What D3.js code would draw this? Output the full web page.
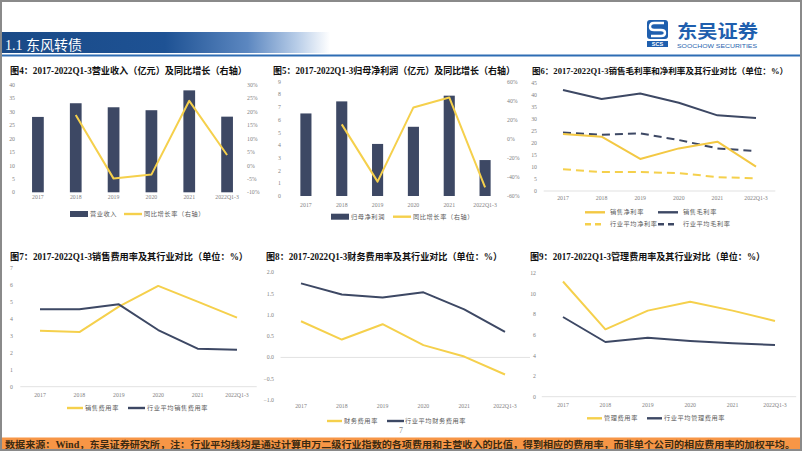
<!DOCTYPE html>
<html><head><meta charset="utf-8">
<script src="https://cdn.jsdelivr.net/npm/d3@7"></script>
<style>body{margin:0;background:#fff}svg{display:block}</style>
</head><body>
<script>
// ---------- DATA ----------
const categories = ["2017","2018","2019","2020","2021","2022Q1-3"];
const revenue = [28.1, 33.2, 31.7, 30.6, 38.0, 28.2];
const revenueGrowth = [null, 18.8, -4.9, -3.4, 24.1, 3.9];
const netProfit = [6.5, 7.45, 4.1, 5.45, 7.9, 2.83];
const netProfitGrowth = [null, 15.2, -44.9, 33.0, 43.5, -50.9];
const netMargin = [23.8, 22.7, 13.4, 17.8, 20.6, 10.2];
const grossMargin = [42.2, 38.4, 40.7, 36.9, 31.6, 30.5];
const indNetMargin = [9.1, 7.9, 7.9, 7.5, 5.8, 5.3];
const indGrossMargin = [24.4, 23.5, 24.1, 21.3, 17.8, 16.7];
const sellingExp = [3.31, 3.23, 4.73, 5.96, 5.03, 4.08];
const indSellingExp = [4.58, 4.58, 4.87, 3.35, 2.25, 2.19];
const finExp = [0.85, 0.42, 0.78, 0.29, 0.02, -0.40];
const indFinExp = [1.74, 1.48, 1.41, 1.53, 1.13, 0.60];
const adminExp = [11.2, 6.55, 8.37, 9.24, 8.37, 7.36];
const indAdminExp = [7.75, 5.32, 5.74, 5.42, 5.19, 5.03];

const ticks1L = [0,5,10,15,20,25,30,35,40];
const ticks1R = [-10,-5,0,5,10,15,20,25,30];
const ticks2L = [0,1,2,3,4,5,6,7,8,9];
const ticks2R = [-60,-40,-20,0,20,40,60];
const ticks3 = [0,5,10,15,20,25,30,35,40,45];
const ticks4 = [0,1,2,3,4,5,6,7];
const ticks5 = [-1.0,-0.5,0.0,0.5,1.0,1.5,2.0];
const ticks6 = [0,2,4,6,8,10,12];

const titles = [
  "图4：2017-2022Q1-3营业收入（亿元）及同比增长（右轴）",
  "图5：2017-2022Q1-3归母净利润（亿元）及同比增长（右轴）",
  "图6：2017-2022Q1-3销售毛利率和净利率及其行业对比（单位：%）",
  "图7：2017-2022Q1-3销售费用率及其行业对比（单位：%）",
  "图8：2017-2022Q1-3财务费用率及其行业对比（单位：%）",
  "图9：2017-2022Q1-3管理费用率及其行业对比（单位：%）"
];
const footerText = "数据来源：Wind，东吴证券研究所，注：行业平均线均是通过计算申万二级行业指数的各项费用和主营收入的比值，得到相应的费用率，而非单个公司的相应费用率的加权平均。";

// ---------- STYLE ----------
const NAVY = "#3d4864", YEL = "#f5d04c", GRAY = "#7f7f7f";
const SERIF = "'Liberation Serif','Noto Sans CJK SC',serif";
const CJK = "'Noto Sans CJK SC','Liberation Serif',sans-serif";

const svg = d3.select("body").append("svg").attr("width",802).attr("height",451);
const defs = svg.append("defs");
const grad = defs.append("linearGradient").attr("id","hdr").attr("x1","0").attr("x2","1");
[[0,"#1a4a87"],[0.5,"#1e5294"],[0.75,"#5c87c0"],[0.9,"#b8cde8"],[1,"#ffffff"]]
  .forEach(([o,c])=>grad.append("stop").attr("offset",o).attr("stop-color",c));

// ---------- HEADER ----------
svg.append("rect").attr("x",0).attr("y",32).attr("width",330).attr("height",21).attr("fill","url(#hdr)");
svg.append("text").attr("x",5).attr("y",50).attr("fill","#fff").attr("font-family",SERIF)
  .attr("font-size",14).text("1.1 东风转债");
svg.append("line").attr("x1",0).attr("x2",802).attr("y1",55.5).attr("y2",55.5)
  .attr("stroke","#2e6db4").attr("stroke-width",2);
// logo
const logo = svg.append("g");
logo.append("rect").attr("x",647).attr("y",20).attr("width",21).attr("height",19).attr("rx",3).attr("fill","#1f5fae");
logo.append("path").attr("d","M664,23 L654,23 Q650,23 650,27 Q650,30 654,30 L661,30 Q665,30 665,33 Q665,36 661,36 L651,36")
  .attr("fill","none").attr("stroke","#fff").attr("stroke-width",2.4);
logo.append("rect").attr("x",647).attr("y",41).attr("width",21).attr("height",6).attr("fill","#1f5fae");
logo.append("text").attr("x",657.5).attr("y",46.3).attr("text-anchor","middle").attr("font-family","Liberation Sans")
  .attr("font-size",5.5).attr("font-weight","bold").attr("fill","#fff").text("SCS");
logo.append("text").attr("x",677).attr("y",37.5).attr("font-family",CJK).attr("font-weight","bold")
  .attr("font-size",18).attr("fill","#1f5fae").attr("textLength",81).attr("lengthAdjust","spacingAndGlyphs").text("东吴证券");
logo.append("text").attr("x",677).attr("y",47.8).attr("font-family","Liberation Sans")
  .attr("font-size",6).attr("fill","#1f5fae").attr("textLength",80).attr("lengthAdjust","spacingAndGlyphs").text("SOOCHOW SECURITIES");

// ---------- FOOTER ----------
svg.append("text").attr("x",401).attr("y",433).attr("text-anchor","middle").attr("font-family",SERIF)
  .attr("font-size",8).attr("fill",GRAY).text("7");
svg.append("rect").attr("x",0).attr("y",437.5).attr("width",802).attr("height",14).attr("fill","#f79646");
svg.append("text").attr("x",5).attr("y",448).attr("font-family",SERIF).attr("font-weight","bold")
  .attr("font-size",9.5).attr("fill","#3b2a12").attr("textLength",790).attr("lengthAdjust","spacingAndGlyphs").text(footerText);

// border
svg.append("rect").attr("x",1).attr("y",1).attr("width",800).attr("height",449).attr("fill","none")
  .attr("stroke","#8a8a8a").attr("stroke-width",2);

// ---------- HELPERS ----------
function title(i,x,y,len,fs){
  svg.append("text").attr("x",x).attr("y",y).attr("font-family",SERIF).attr("font-weight","bold")
    .attr("font-size",fs||9.5).attr("fill","#111").attr("textLength",len).attr("lengthAdjust","spacingAndGlyphs").text(titles[i]);
}
function xLabels(x,y){
  svg.append("g").selectAll("text").data(categories).join("text")
    .attr("x",d=>x(d)+x.bandwidth()/2).attr("y",y).attr("text-anchor","middle")
    .attr("font-family",SERIF).attr("font-size",5.8).attr("fill",GRAY).text(d=>d);
}
function yLabels(scale,ticks,fmt,x,anchor){
  svg.append("g").selectAll("text").data(ticks).join("text")
    .attr("x",x).attr("y",d=>scale(d)).attr("dy","0.35em").attr("text-anchor",anchor)
    .attr("font-family",SERIF).attr("font-size",5.8).attr("fill",GRAY).text(fmt);
}
function baseline(x1,x2,y){
  svg.append("line").attr("x1",x1).attr("x2",x2).attr("y1",y).attr("y2",y).attr("stroke","#d9d9d9").attr("stroke-width",0.8);
}
function lineSeries(x,y,vals,color,dash){
  const gen = d3.line().defined(d=>d!=null).x((d,i)=>x(categories[i])+x.bandwidth()/2).y(d=>y(d));
  svg.append("path").datum(vals).attr("d",gen).attr("fill","none").attr("stroke",color)
    .attr("stroke-width",2).attr("stroke-linejoin","round").attr("stroke-dasharray",dash||null);
}
function bars(x,y,vals,color){
  const w = x.bandwidth()*0.31;
  svg.append("g").selectAll("rect").data(vals).join("rect")
    .attr("x",(d,i)=>x(categories[i])+x.bandwidth()/2-w/2).attr("width",w)
    .attr("y",d=>y(d)).attr("height",d=>y(0)-y(d)).attr("fill",color);
}
function legendText(x,y,t){
  svg.append("text").attr("x",x).attr("y",y).attr("dy","0.35em").attr("font-family",CJK)
    .attr("font-size",6.2).attr("letter-spacing",0.6).attr("fill","#595959").text(t);
}
function legendLine(x1,x2,y,color,dash){
  svg.append("line").attr("x1",x1).attr("x2",x2).attr("y1",y).attr("y2",y).attr("stroke",color)
    .attr("stroke-width",2.4).attr("stroke-dasharray",dash||null);
}
function legendRect(x1,x2,y,color){
  svg.append("rect").attr("x",x1).attr("y",y-3).attr("width",x2-x1).attr("height",6).attr("fill",color);
}
const pct = d=>d+"%";

// ---------- CHART 1 ----------
{
  title(0,10,73.5,237);
  const x = d3.scaleBand().domain(categories).range([19,246]);
  const yL = d3.scaleLinear().domain([0,40]).range([192.3,85]);
  const yR = d3.scaleLinear().domain([-10,30]).range([192.3,85]);
  bars(x,yL,revenue,NAVY);
  lineSeries(x,yR,revenueGrowth,YEL);
  yLabels(yL,ticks1L,d=>d,15,"end");
  yLabels(yR,ticks1R,pct,247,"start");
  xLabels(x,199);
  legendRect(70,88,214,NAVY); legendText(90,214,"营业收入");
  legendLine(124,142,214,YEL); legendText(144,214,"同比增长率（右轴）");
}
// ---------- CHART 2 ----------
{
  title(1,273,73.5,242);
  const x = d3.scaleBand().domain(categories).range([288,503]);
  const yL = d3.scaleLinear().domain([0,9]).range([196,81.7]);
  const yR = d3.scaleLinear().domain([-60,60]).range([196,81.7]);
  bars(x,yL,netProfit,NAVY);
  lineSeries(x,yR,netProfitGrowth,YEL);
  yLabels(yL,ticks2L,d=>d,281,"end");
  yLabels(yR,ticks2R,pct,507,"start");
  xLabels(x,207);
  legendRect(331,349,216.7,NAVY); legendText(351,216.7,"归母净利润");
  legendLine(393,411,216.7,YEL); legendText(413,216.7,"同比增长率（右轴）");
}
// ---------- CHART 3 ----------
{
  title(2,532,74,256,8.4);
  const x = d3.scaleBand().domain(categories).range([543.7,775.3]);
  const y = d3.scaleLinear().domain([0,45]).range([191,83.3]);
  baseline(543.7,775.3,y(0));
  lineSeries(x,y,indNetMargin,YEL,"8,5");
  lineSeries(x,y,indGrossMargin,NAVY,"8,5");
  lineSeries(x,y,netMargin,"#f3c843");
  lineSeries(x,y,grossMargin,NAVY);
  yLabels(y,ticks3,d=>d,537,"end");
  xLabels(x,200);
  legendLine(585,605,212.3,"#f3c843"); legendText(610,212.3,"销售净利率");
  legendLine(658,678,212.3,NAVY); legendText(683,212.3,"销售毛利率");
  legendLine(585,605,224.3,YEL,"6,4"); legendText(610,224.3,"行业平均净利率");
  legendLine(658,678,224.3,NAVY,"6,4"); legendText(683,224.3,"行业平均毛利率");
}
// ---------- CHART 4 ----------
{
  title(3,10,259.5,238);
  const x = d3.scaleBand().domain(categories).range([20.3,256.7]);
  const y = d3.scaleLinear().domain([0,7]).range([386.7,268.3]);
  baseline(20.3,256.7,y(0));
  lineSeries(x,y,sellingExp,YEL);
  lineSeries(x,y,indSellingExp,NAVY);
  yLabels(y,ticks4,d=>d,13,"end");
  xLabels(x,397);
  legendLine(67,83,408,YEL); legendText(85,408,"销售费用率");
  legendLine(128,145,408,NAVY); legendText(147,408,"行业平均销售费用率");
}
// ---------- CHART 5 ----------
{
  title(4,266,259.5,236);
  const x = d3.scaleBand().domain(categories).range([280.6,525.4]);
  const y = d3.scaleLinear().domain([-1,2]).range([400,272.3]);
  baseline(280.6,530,y(0));
  lineSeries(x,y,finExp,YEL);
  lineSeries(x,y,indFinExp,NAVY);
  yLabels(y,ticks5,d3.format(".1f"),274,"end");
  xLabels(x,408);
  legendLine(327,342,421,YEL); legendText(344,421,"财务费用率");
  legendLine(387,404,421,NAVY); legendText(405,421,"行业平均财务费用率");
}
// ---------- CHART 6 ----------
{
  title(5,530,259.5,235);
  const x = d3.scaleBand().domain(categories).range([541.8,796.2]);
  const y = d3.scaleLinear().domain([0,12]).range([396.7,273.3]);
  baseline(541.8,796.2,y(0));
  lineSeries(x,y,adminExp,YEL);
  lineSeries(x,y,indAdminExp,NAVY);
  yLabels(y,ticks6,d=>d,536,"end");
  xLabels(x,407);
  legendLine(587,602,418.3,YEL); legendText(604,418.3,"管理费用率");
  legendLine(647,662,418.3,NAVY); legendText(664,418.3,"行业平均管理费用率");
}
</script>
</body></html>
